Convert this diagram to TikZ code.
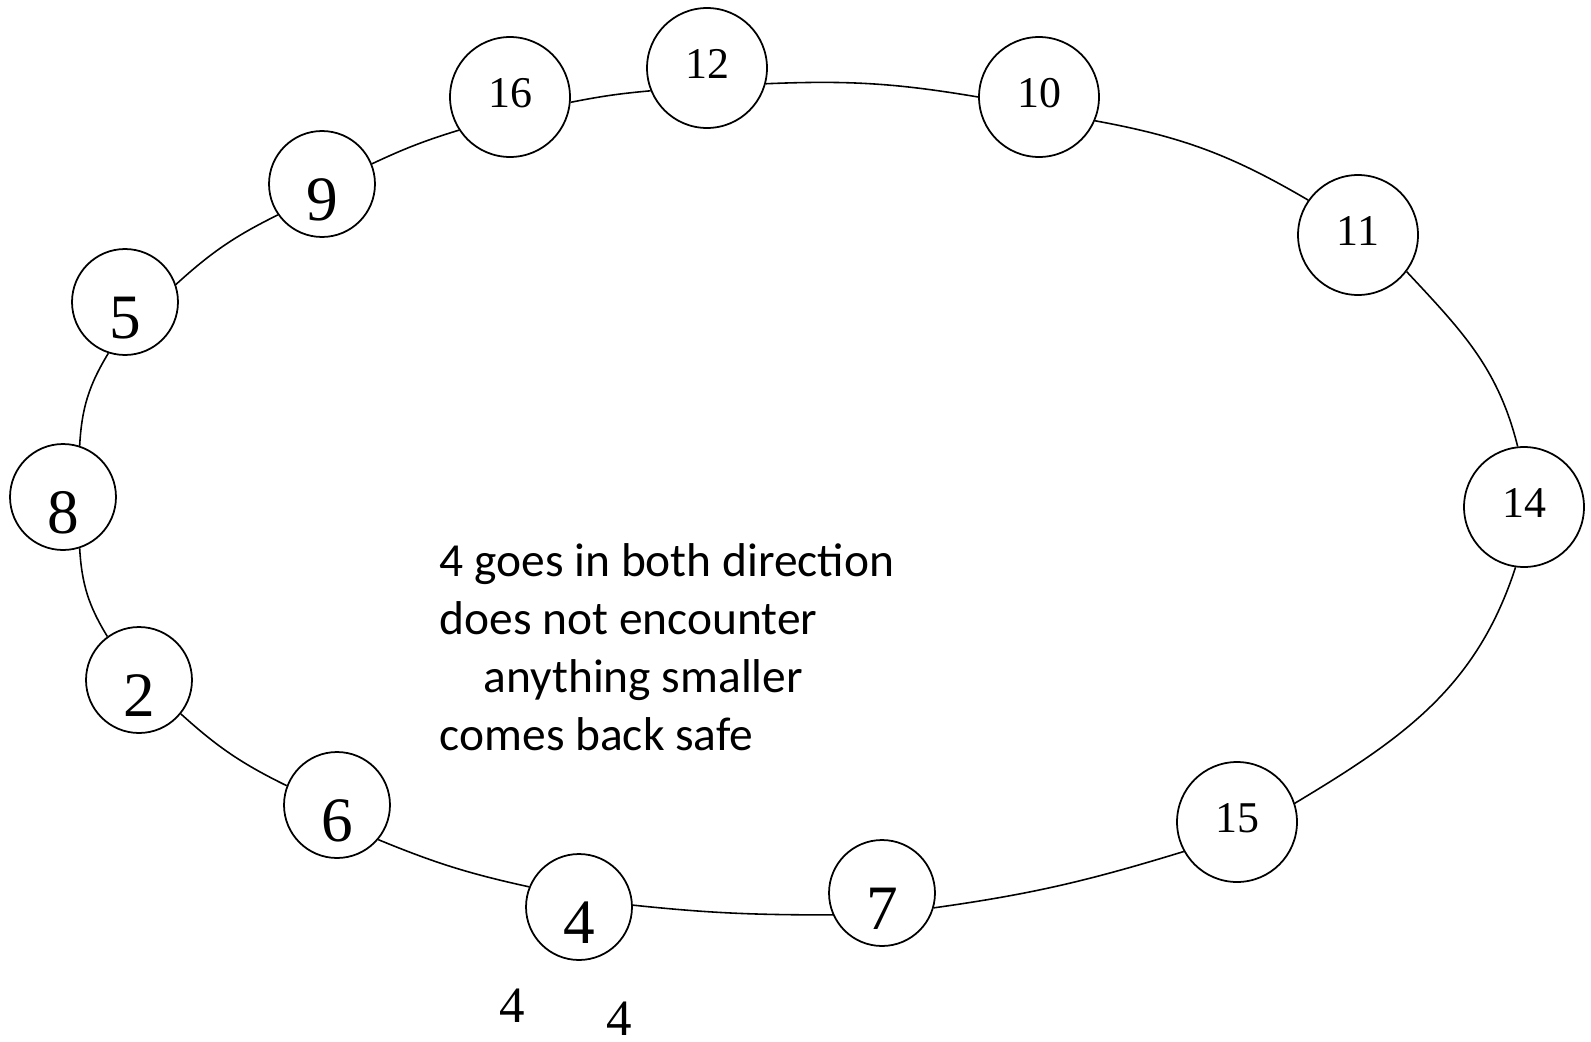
\documentclass[tikz,border=0pt]{standalone}
\usepackage{fontspec}
\setmainfont{Liberation Serif}
\newfontfamily\notefont{Carlito}
\usepackage{tikz}

\begin{document}
\begin{tikzpicture}[x=0.02cm, y=0.02cm, line width=0.9pt,
                    nodes={draw, circle, fill=white, inner sep=0, line width=1pt},
                    big/.style={minimum size=2.12cm, font=\fontsize{36}{36}\selectfont,
                                text height=41pt, text depth=0pt},
                    small/.style={minimum size=2.4cm, font=\fontsize{25}{25}\selectfont,
                                  text height=12.5pt, text depth=0pt},
                    plain/.style={draw=none, fill=none, rectangle}]
    \useasboundingbox (0,0) rectangle (1591,-1041);

    % the ring, top first, going round clockwise
    \node[small] (12) at (707,-68)   {12};
    \node[small] (10) at (1039,-97)  {10};
    \node[small] (11) at (1358,-235) {11};
    \node[small] (14) at (1524,-507) {14};
    \node[small] (15) at (1237,-822) {15};
    \node[big]   (7)  at (882,-893)  {7};
    \node[big]   (4)  at (579,-907)  {4};
    \node[big]   (6)  at (337,-805)  {6};
    \node[big]   (2)  at (139,-680)  {2};
    \node[big]   (8)  at (63,-497)   {8};
    \node[big]   (5)  at (125,-302)  {5};
    \node[big]   (9)  at (322,-184)  {9};
    \node[small] (16) at (510,-97)   {16};

    \draw (12.-15) to[bend left=6] (10.180);
    \draw (10.-23) to[bend left=10] (11.145);
    \draw (11.-37) to[out=-47, in=104] (14.96);
    \draw (14.-98) to[out=-108, in=31] (15.18);
    \draw (15.209) to[out=197, in=8] (7.-16);
    \draw (7.204) to[out=180, in=-6] (4.2);
    \draw (4.158) to[bend left=5] (6.-40);
    \draw (6.159) to[bend left=8] (2.-39);
    \draw (2.126) to[bend left=14] (8.-72);
    \draw (8.72) to[bend left=14] (5.-108);
    \draw (5.19) to[bend left=8] (9.215);
    \draw (9.22) to[bend left=4] (16.213);
    \draw (16.-5) to[bend left=3] (12.202);

    \node[plain, anchor=base west, align=left, font=\notefont\fontsize{27}{33}\selectfont]
        (note) at (439,-750) {4 goes in both direction\\does not encounter\\
        \hspace*{25pt}anything smaller\\comes back safe};

    \node[plain, anchor=base, font=\fontsize{29}{29}\selectfont] (a) at (512,-1022) {4};
    \node[plain, anchor=base, font=\fontsize{29}{29}\selectfont] (b) at (619,-1035) {4};
\end{tikzpicture}
\end{document}
